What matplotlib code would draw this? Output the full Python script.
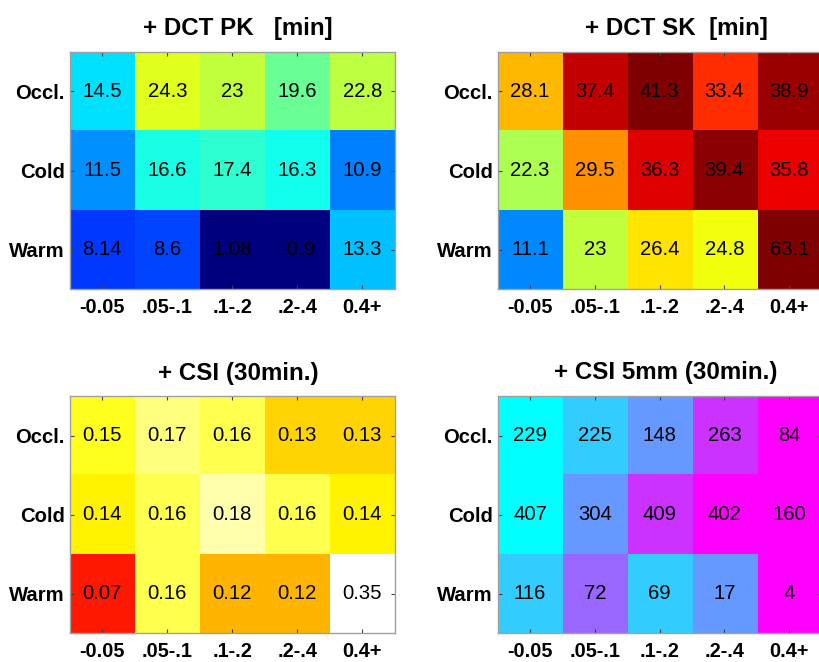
import numpy as np
import matplotlib
matplotlib.use("Agg")
import matplotlib.pyplot as plt
from matplotlib.colors import LinearSegmentedColormap, Normalize

plt.rcParams['font.family'] = ['Liberation Sans', 'DejaVu Sans']

# Row / column categories
rows = ["Occl.", "Cold", "Warm"]
bins = ["-0.05", ".05-.1", ".1-.2", ".2-.4", "0.4+"]

# Panel values
dct_pk = [[14.5, 24.3, 23, 19.6, 22.8],
          [11.5, 16.6, 17.4, 16.3, 10.9],
          [8.14, 8.6, 1.08, -0.9, 13.3]]
dct_sk = [[28.1, 37.4, 41.3, 33.4, 38.9],
          [22.3, 29.5, 36.3, 39.4, 35.8],
          [11.1, 23, 26.4, 24.8, 63.1]]
csi = [[0.15, 0.17, 0.16, 0.13, 0.13],
       [0.14, 0.16, 0.18, 0.16, 0.14],
       [0.07, 0.16, 0.12, 0.12, 0.35]]
csi5 = [[229, 225, 148, 263, 84],
        [407, 304, 409, 402, 160],
        [116, 72, 69, 17, 4]]
# shading class (0..5) used for the CSI 5mm cells
csi5_shade = [[0, 1, 2, 4, 5],
              [0, 2, 4, 5, 5],
              [1, 3, 1, 2, 5]]

titles = ["+ DCT PK   [min]", "+ DCT SK  [min]", "+ CSI (30min.)", "+ CSI 5mm (30min.)"]

# MATLAB-style jet
jet_m = LinearSegmentedColormap('jet_m', {
    'red':   [(0, 0, 0), (0.375, 0, 0), (0.625, 1, 1), (0.875, 1, 1), (1, 0.5, 0.5)],
    'green': [(0, 0, 0), (0.125, 0, 0), (0.375, 1, 1), (0.625, 1, 1), (0.875, 0, 0), (1, 0, 0)],
    'blue':  [(0, 0.5, 0.5), (0.125, 1, 1), (0.375, 1, 1), (0.625, 0, 0), (1, 0, 0)]})

W, H = 819, 662
fig = plt.figure(figsize=(W / 100, H / 100), dpi=100)


def px_axes(x0, y0, x1, y1):
    return fig.add_axes([x0 / W, 1 - y1 / H, (x1 - x0) / W, (y1 - y0) / H])


panels = [
    # (axes box px, color data, labels, cmap, norm, title x, title baseline y)
    ((69.8, 51.7, 394.8, 289.3), dct_pk, dct_pk, jet_m, Normalize(1, 40), 237.5, 35),
    ((497.6, 51.7, 821.7, 289.3), dct_sk, dct_sk, jet_m, Normalize(1, 40), 676.3, 35),
    ((69.8, 396, 394.8, 633.3), csi, csi, plt.get_cmap('hot'), Normalize(-0.015, 0.198), 238, 380),
    ((497.6, 396, 821.7, 633.3), csi5_shade, csi5, plt.get_cmap('cool'), Normalize(0, 5), 665.3, 379.5),
]

for (box, cdata, labels, cmap, norm, tx, ty), title in zip(panels, titles):
    ax = px_axes(*box)
    ax.imshow(np.array(cdata, dtype=float), cmap=cmap, norm=norm,
              aspect='auto', interpolation='nearest')
    for i in range(len(rows)):
        for j in range(len(bins)):
            ax.text(j, i, '{:g}'.format(labels[i][j]), ha='center', va='center',
                    fontsize=14.6, color='black')
    ax.set_xticks(range(len(bins)))
    ax.set_xticklabels(bins, fontsize=14.3, fontweight='bold')
    ax.set_yticks(range(len(rows)))
    ax.set_yticklabels(rows, fontsize=14.6, fontweight='bold')
    ax.tick_params(direction='in', length=3, width=0.8, color='#404040',
                   top=True, right=True, pad=3.5)
    ax.tick_params(axis='x', pad=6.5)
    for s in ax.spines.values():
        s.set_color('#a0a0a0')
        s.set_linewidth(1.0)
    fig.text(tx / W, 1 - ty / H, title, ha='center', va='baseline',
             fontsize=17.4, fontweight='bold')

fig.savefig('out.png', dpi=100)
